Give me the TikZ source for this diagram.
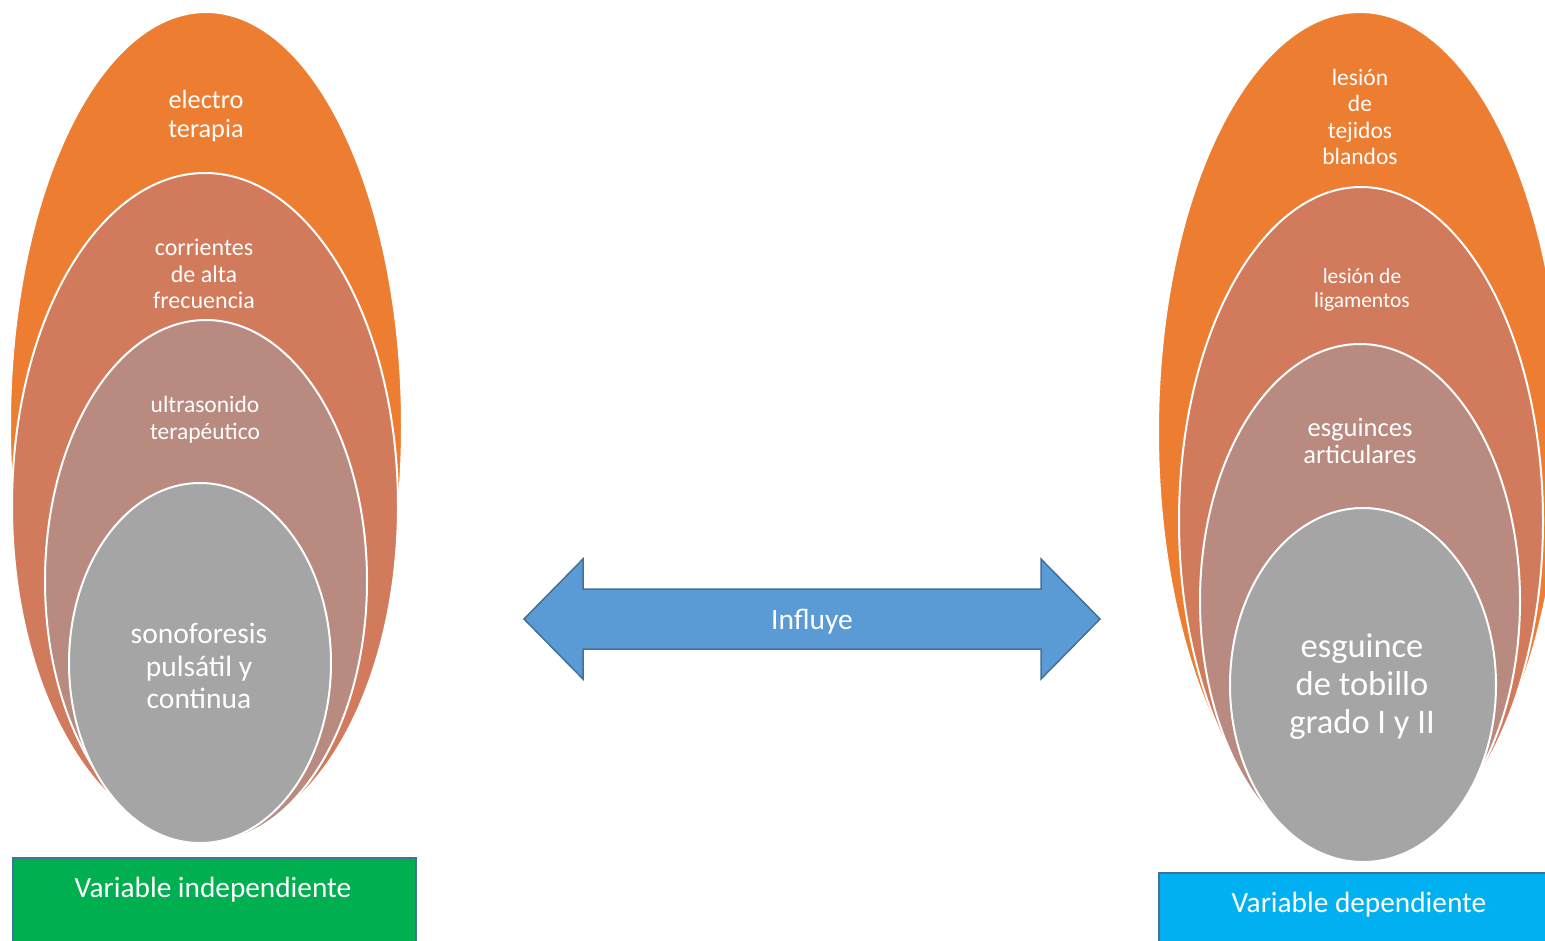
\documentclass[tikz,border=0pt]{standalone}
\usepackage{fontspec}
\setmainfont{Carlito}
\usetikzlibrary{shapes.geometric}
\definecolor{orng}{HTML}{ED7D31}
\definecolor{coral}{HTML}{D27A5C}
\definecolor{mauve}{HTML}{B98A80}
\definecolor{greyc}{HTML}{A5A5A5}
\definecolor{arrowfill}{HTML}{5B9BD5}
\definecolor{edgeblue}{HTML}{41719C}
\definecolor{greenbox}{HTML}{00B050}
\definecolor{cyanbox}{HTML}{00B0F0}
\begin{document}
\begin{tikzpicture}[x=1pt,y=-1pt,
  ell/.style={ellipse, inner sep=0pt, draw=white, line width=2pt},
  lbl/.style={text=white, align=center, inner sep=0pt},
  varbox/.style={rectangle, draw=edgeblue, line width=2pt, inner sep=0pt, anchor=north west},
  bigarrow/.style={fill=arrowfill, draw=edgeblue, line width=1.5pt, line join=miter}]
\clip (0,0) rectangle (1545,940);
\fill[white] (0,0) rectangle (1545,940);
% left group
\node[ell, fill=orng,  minimum width=392pt, minimum height=828pt] (L1) at (206,426) {};
\node[ell, fill=coral, minimum width=386pt, minimum height=666pt] (L2) at (205,506) {};
\node[ell, fill=mauve, minimum width=322pt, minimum height=522pt] (L3) at (206,581) {};
\node[ell, fill=greyc, minimum width=262pt, minimum height=360pt] (L4) at (200,663) {};
\node[lbl, font=\fontsize{26.3}{28.5}\selectfont] (T1) at (206,116) {electro\\terapia};
\node[lbl, font=\fontsize{24}{26.5}\selectfont] (T2) at (204,274) {corrientes\\de alta\\frecuencia};
\node[lbl, font=\fontsize{23.5}{27}\selectfont] (T3) at (205,420) {ultrasonido\\terapéutico};
\node[lbl, font=\fontsize{29.5}{32.5}\selectfont] (T4) at (199,666) {sonoforesis\\pulsátil y\\continua};
% right group
\node[ell, fill=orng,  minimum width=404pt, minimum height=840pt] (R1) at (1360,432) {};
\node[ell, fill=coral, minimum width=364pt, minimum height=668pt] (R2) at (1361,521) {};
\node[ell, fill=mauve, minimum width=320pt, minimum height=514pt] (R3) at (1360,601) {};
\node[ell, fill=greyc, minimum width=266pt, minimum height=354pt] (R4) at (1363,685) {};
\node[lbl, font=\fontsize{23.5}{26.3}\selectfont] (S1) at (1360,117) {lesión\\de\\tejidos\\blandos};
\node[lbl, font=\fontsize{21.5}{24}\selectfont] (S2) at (1362,290) {lesión de\\ligamentos};
\node[lbl, font=\fontsize{26.5}{27}\selectfont] (S3) at (1360,441) {esguinces\\articulares};
\node[lbl, font=\fontsize{34.5}{38}\selectfont] (S4) at (1362,687) {esguince\\de tobillo\\grado I y II};
% arrow
\draw[bigarrow] (524,619) -- (583,559) -- (583,589) -- (1041,589) -- (1041,559) -- (1100,619)
  -- (1041,679) -- (1041,649) -- (583,649) -- (583,679) -- cycle;
\node[lbl, font=\fontsize{29.5}{31}\selectfont] (INF) at (812,622) {Influye};
% boxes
\node[varbox, fill=greenbox, minimum width=403pt, minimum height=100pt] (VI) at (12,857) {};
\node[lbl, font=\fontsize{29.3}{31}\selectfont] (VIT) at (213,890) {Variable independiente};
\node[varbox, fill=cyanbox, minimum width=420pt, minimum height=100pt] (VD) at (1158,872) {};
\node[lbl, font=\fontsize{29.3}{31}\selectfont] (VDT) at (1359,905) {Variable dependiente};
\end{tikzpicture}
\end{document}
